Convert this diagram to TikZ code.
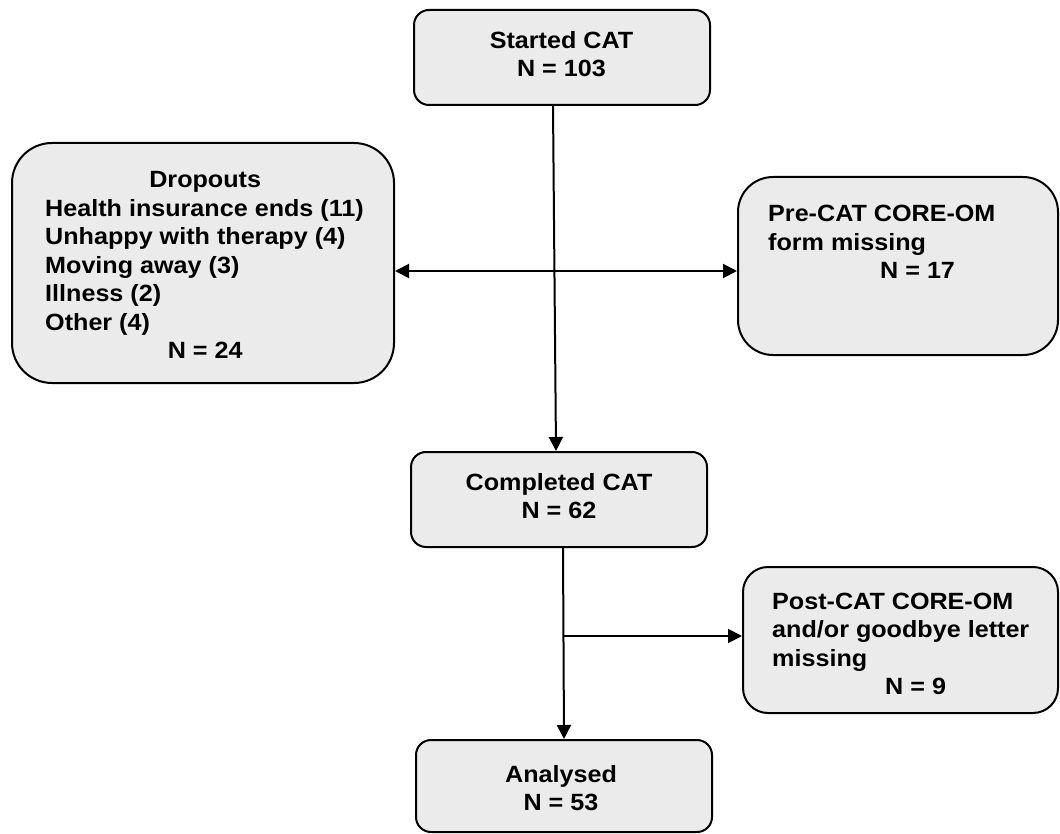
\documentclass[tikz,border=0pt]{standalone}
\usepackage{fontspec}
\setmainfont{Liberation Sans}[FakeStretch=1.07]
\usetikzlibrary{arrows.meta}
\definecolor{boxfill}{HTML}{EBEBEB}
\tikzset{
  box/.style={draw=black, line width=2pt, fill=boxfill, inner sep=0pt},
  txt/.style={inner sep=0pt, font=\fontsize{23.5}{28.5}\selectfont\bfseries},
  arr/.style={line width=2pt, -{Triangle[length=14pt,width=14pt]}},
  arrboth/.style={line width=2pt, {Triangle[length=14pt,width=14pt]}-{Triangle[length=14pt,width=14pt]}},
}
\begin{document}
\begin{tikzpicture}[x=1pt,y=-1pt]
\useasboundingbox (0,0) rectangle (1060,834);
% boxes
\node[box, rounded corners=15pt, minimum width=296pt, minimum height=95pt] (start) at (562,57.5) {};
\node[box, rounded corners=40pt, minimum width=382pt, minimum height=240pt] (drop) at (203,263) {};
\node[box, rounded corners=35pt, minimum width=320pt, minimum height=178pt] (pre) at (898,266) {};
\node[box, rounded corners=15pt, minimum width=296pt, minimum height=95pt] (comp) at (559,499.5) {};
\node[box, rounded corners=25pt, minimum width=315pt, minimum height=146pt] (post) at (900.5,640) {};
\node[box, rounded corners=15pt, minimum width=296pt, minimum height=92pt] (anal) at (564,786) {};
% texts
\node[txt, align=center] (tstart) at (561.5,54) {Started CAT\\N = 103};
\node[txt, align=left, anchor=west] (tdrop) at (45,265) {\makebox[320pt]{Dropouts}\\Health insurance ends (11)\\Unhappy with therapy (4)\\Moving away (3)\\Illness (2)\\Other (4)\\\makebox[320pt]{N = 24}};
\node[txt, align=left, anchor=west] (tpre) at (768,242) {Pre-CAT CORE-OM\\form missing\\\hspace*{112pt}N = 17};
\node[txt, align=center] (tcomp) at (559,496) {Completed CAT\\N = 62};
\node[txt, align=left, anchor=west] (tpost) at (772,644) {Post-CAT CORE-OM\\and/or goodbye letter\\missing\\\hspace*{113pt}N = 9};
\node[txt, align=center] (tanal) at (561,788) {Analysed\\N = 53};
% connectors
\coordinate (mid) at (554,271);
\coordinate (junc) at (564,636);
\draw[arr] ([xshift=-9pt]start.south) -- ([xshift=-3pt]comp.north);
\draw[arrboth] (drop.east |- mid) -- (pre.west |- mid);
\draw[arr] ([xshift=4pt]comp.south) -- (anal.north -| junc);
\draw[arr] (junc) -- (post.west |- junc);
\end{tikzpicture}
\end{document}
